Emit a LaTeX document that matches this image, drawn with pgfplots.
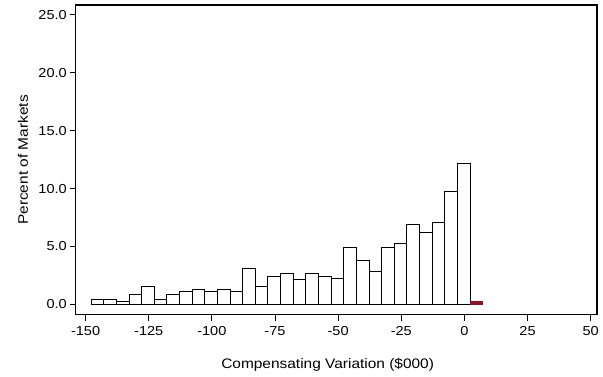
\documentclass[border=0pt]{standalone}
\usepackage{pgfplots}
\pgfplotsset{compat=1.18}
\usepackage{fontspec}
\setmainfont[FakeStretch=1.12]{Liberation Sans}
\definecolor{barred}{RGB}{140,20,40}
\pgfplotstableread{
x y
-145.3 0.43
-140.3 0.43
-135.3 0.22
-130.3 0.87
-125.3 1.52
-120.3 0.43
-115.3 0.88
-110.3 1.12
-105.3 1.32
-100.3 1.12
-95.3 1.32
-90.3 1.12
-85.3 3.08
-80.3 1.52
-75.3 2.39
-70.3 2.65
-65.3 2.19
-60.3 2.65
-55.3 2.39
-50.3 2.22
-45.3 4.88
-40.3 3.78
-35.3 2.88
-30.3 4.88
-25.3 5.30
-20.3 6.86
-15.3 6.20
-10.3 7.09
-5.3 9.75
-0.3 12.17
}\bars
\pgfplotstableread{
x y
4.7 0.22
}\redbar
\begin{document}
\begin{tikzpicture}
\begin{axis}[name=ax, at={(0,0)}, anchor=south west,
  scale only axis, width=521pt, height=310pt,
  xmin=-153.8, xmax=52.5, ymin=-0.92, ymax=25.85,
  axis lines=box,
  xtick={-150,-125,...,50},
  xticklabels={-150,-125,-100,-75,-50,-25,0,25,50},
  ytick={0,5,10,15,20,25},
  yticklabels={0.0,5.0,10.0,15.0,20.0,25.0},
  xtick pos=left, ytick pos=left,
  tick align=outside, major tick length=6pt,
  tick style={black, line width=0.9pt},
  axis line style={black, line width=1pt},
  ticklabel style={font=\fontsize{13}{15}\selectfont, inner sep=0pt},
  xticklabel style={anchor=north, yshift=-5pt},
  yticklabel style={anchor=east, xshift=-3pt},
  label style={font=\fontsize{13.8}{16}\selectfont},
  xlabel={Compensating Variation (\$000)},
  ylabel={Percent of Markets},
  xlabel style={at={(axis description cs:0.483,-0.16)}, anchor=center},
  ylabel style={at={(axis description cs:-0.102,0.5)}, anchor=center},
  ybar, bar width=5, bar shift=0pt,
]
\addplot[draw=black, fill=white, line width=0.9pt] table[x=x,y=y] {\bars};
\addplot[draw=barred, fill=barred, line width=0.9pt] table[x=x,y=y] {\redbar};
\end{axis}
\draw[black, line width=1.5pt] (ax.north west) -- (ax.north east) -- (ax.south east);
\path (ax.south west) ++(-76pt,-62pt) rectangle ++(603pt,377pt);
\end{tikzpicture}
\end{document}
